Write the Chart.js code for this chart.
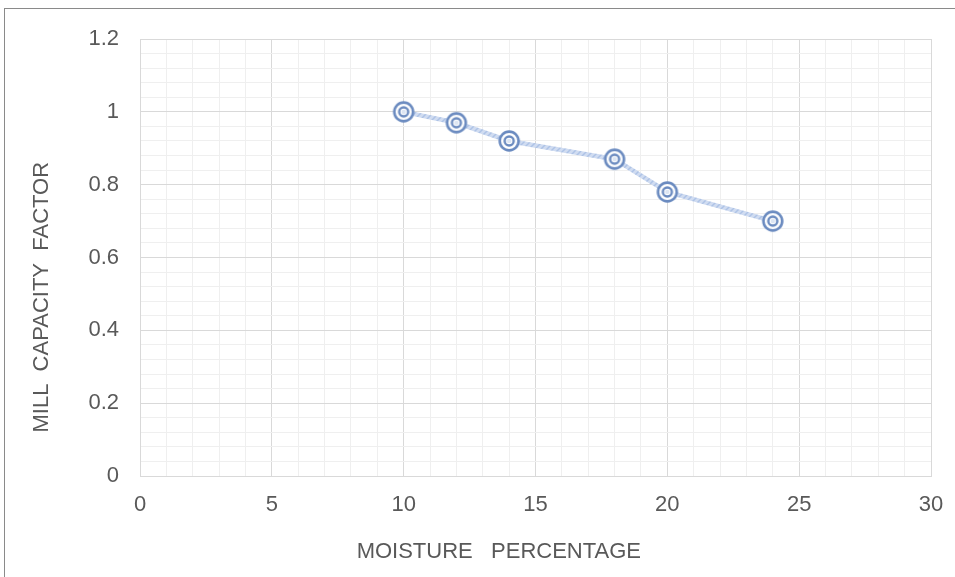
<!DOCTYPE html>
<html>
<head>
<meta charset="utf-8">
<title>Mill capacity factor vs moisture</title>
<script src="https://cdn.jsdelivr.net/npm/chart.js@4.4.1/dist/chart.umd.min.js"></script>
<style>
  html, body { margin: 0; padding: 0; background: #ffffff; }
  #wrap { position: relative; width: 955px; height: 577px; overflow: hidden; }
  #frame {
    position: absolute; left: 4px; top: 8px; right: -4px; bottom: -4px;
    border: 1px solid #8a8a8a; pointer-events: none;
  }
  canvas { position: absolute; left: 0; top: 0; }
</style>
</head>
<body>
<div id="wrap">
  <canvas id="chart" width="955" height="577"></canvas>
  <div id="frame"></div>
</div>
<script>
// Moisture content (%) and the corresponding mill capacity factor
const moisture = [10, 12, 14, 18, 20, 24];
const capacityFactor = [1.0, 0.97, 0.92, 0.87, 0.78, 0.70];

// Axis ranges and labelled (major) ticks
const xMin = 0, xMax = 30, xStep = 1, xMajorEvery = 5;
const yMin = 0, yMax = 1.2, yStep = 0.04, yMajorEvery = 5;
const xTitle = 'MOISTURE   PERCENTAGE';
const yTitle = 'MILL  CAPACITY  FACTOR';

const textColor = '#595959';
const majorGrid = '#d9d9d9';
const minorGrid = '#efefef';
const fontFamily = 'Liberation Sans, Arial, sans-serif';

// Double-ring marker
function ringMarker() {
  const c = document.createElement('canvas');
  c.width = 26; c.height = 26;
  const g = c.getContext('2d');
  g.fillStyle = '#ffffff';
  g.beginPath(); g.arc(13, 13, 10, 0, Math.PI * 2); g.fill();
  g.strokeStyle = '#6b8bc0';
  g.lineWidth = 2.6;
  g.beginPath(); g.arc(13, 13, 9.4, 0, Math.PI * 2); g.stroke();
  g.lineWidth = 2.4;
  g.beginPath(); g.arc(13, 13, 4.5, 0, Math.PI * 2); g.stroke();
  g.fillStyle = '#dde6f3';
  g.beginPath(); g.arc(13, 13, 2.3, 0, Math.PI * 2); g.fill();
  return c;
}

// Light hatched stroke for the connecting line
function hatch() {
  const c = document.createElement('canvas');
  c.width = 6; c.height = 6;
  const g = c.getContext('2d');
  g.fillStyle = '#d0dcf1';
  g.fillRect(0, 0, 6, 6);
  g.strokeStyle = '#aec3e6';
  g.lineWidth = 1.5;
  g.beginPath();
  g.moveTo(0, 6); g.lineTo(6, 0);
  g.moveTo(-3, 3); g.lineTo(3, -3);
  g.moveTo(3, 9); g.lineTo(9, 3);
  g.stroke();
  return g.createPattern(c, 'repeat');
}

const points = moisture.map((x, i) => ({ x: x, y: capacityFactor[i] }));

const ctx = document.getElementById('chart').getContext('2d');
new Chart(ctx, {
  type: 'line',
  data: {
    datasets: [{
      data: points,
      borderColor: hatch(),
      borderWidth: 4.5,
      tension: 0,
      pointStyle: ringMarker(),
      pointRadius: 10,
      pointHoverRadius: 10
    }]
  },
  options: {
    responsive: false,
    devicePixelRatio: 1,
    animation: false,
    events: [],
    layout: { padding: { left: 0, right: 24, top: 39, bottom: 0 } },
    plugins: { legend: { display: false }, tooltip: { enabled: false } },
    scales: {
      x: {
        type: 'linear',
        min: xMin, max: xMax,
        border: { color: majorGrid },
        grid: {
          drawTicks: false,
          color: c => (c.index % xMajorEvery === 0 ? majorGrid : minorGrid)
        },
        ticks: {
          stepSize: xStep,
          autoSkip: false,
          maxRotation: 0,
          padding: 16,
          color: textColor,
          font: { family: fontFamily, size: 22 },
          callback: (v, i) => (i % xMajorEvery === 0 ? String(v) : '')
        },
        title: {
          display: true,
          text: xTitle + '            ',
          color: textColor,
          font: { family: fontFamily, size: 22 },
          padding: { top: 0, bottom: 12 }
        },
        afterFit(s) { s.height = 101; s.paddingLeft = 0; s.paddingRight = 0; }
      },
      y: {
        min: yMin, max: yMax,
        border: { color: majorGrid },
        grid: {
          drawTicks: false,
          color: c => (c.index % yMajorEvery === 0 ? majorGrid : minorGrid)
        },
        ticks: {
          stepSize: yStep,
          autoSkip: false,
          padding: 21,
          color: textColor,
          font: { family: fontFamily, size: 22 },
          callback: (v, i) => (i % yMajorEvery === 0 ? String(Number(v.toFixed(1))) : '')
        },
        title: {
          display: true,
          text: yTitle + '             ',
          color: textColor,
          font: { family: fontFamily, size: 22 },
          padding: { top: 29, bottom: 0 }
        },
        afterFit(s) { s.width = 140; s.paddingTop = 0; s.paddingBottom = 0; }
      }
    }
  }
});
</script>
</body>
</html>
